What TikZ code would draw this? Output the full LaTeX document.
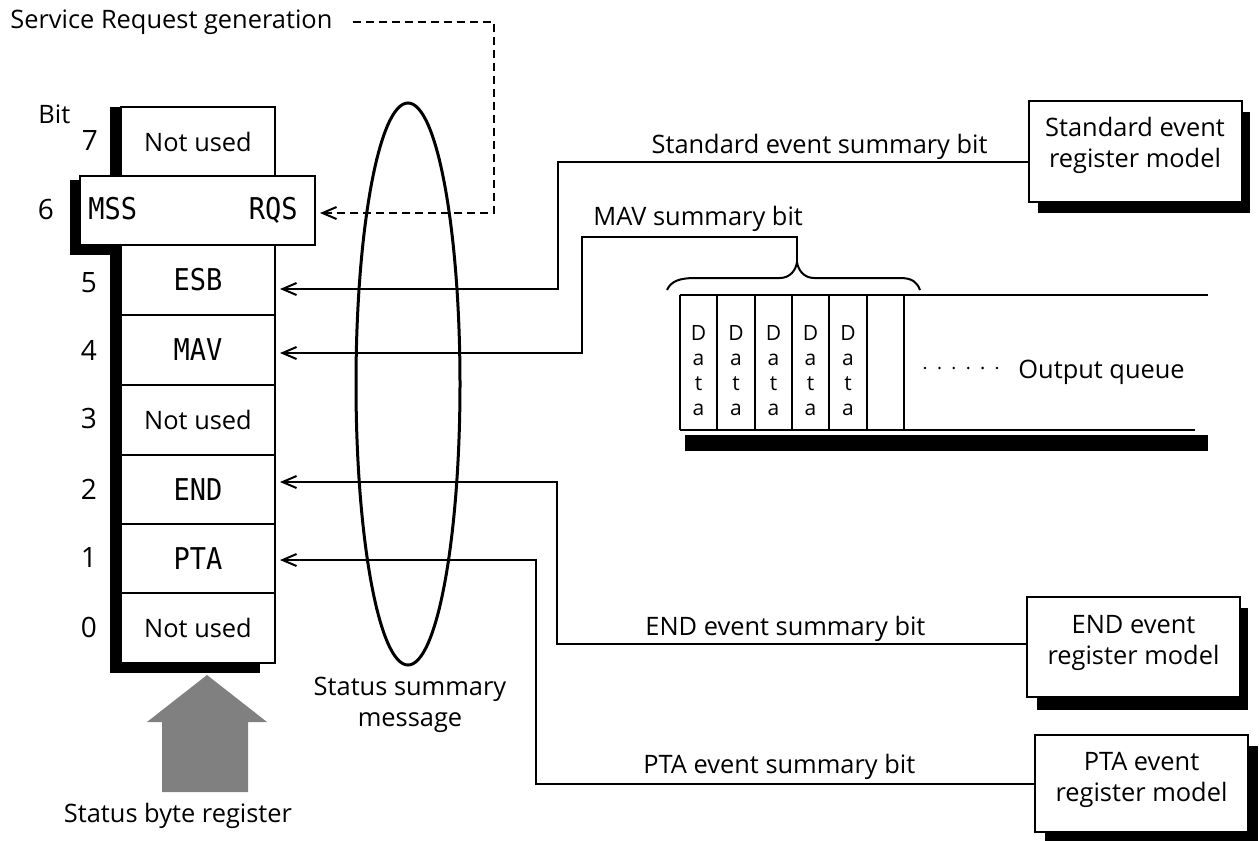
\documentclass[tikz,border=0pt]{standalone}
\usepackage{fontspec}
\setmainfont{Open Sans}
\newfontfamily\monofont[FakeStretch=0.9]{DejaVu Sans Mono}
\usetikzlibrary{arrows.meta}
\begin{document}
\begin{tikzpicture}[x=0.5pt,y=-0.5pt,
  txt/.style={font=\fontsize{12.7}{15}\selectfont,inner sep=0pt},
  num/.style={font=\fontsize{14}{16}\selectfont,inner sep=0pt},
  mono/.style={font=\monofont\fontsize{15}{17}\selectfont},
  small/.style={font=\fontsize{10.5}{12}\selectfont,inner sep=0pt},
  regbox/.style={draw,line width=1pt,fill=white,minimum width=77pt,minimum height=34.8pt,inner sep=0pt,outer sep=0pt,font=\fontsize{12.7}{15}\selectfont},
  evbox/.style={draw,line width=1pt,fill=white,inner sep=0pt,outer sep=0pt,minimum width=106.5pt},
  evtxt/.style={align=center,inner sep=0pt,font=\fontsize{12.7}{15.5}\selectfont},
  conn/.style={line width=1pt},
  arr/.style={conn,-{Straight Barb[length=7pt,width=6pt]},shorten >=2.5pt},
  dsh/.style={line width=1pt,dash pattern=on 4pt off 2.5pt,-{Straight Barb[length=7pt,width=6pt]},shorten >=2.5pt},
  shd/.style={fill=black,draw=none}]
\useasboundingbox (0,0) rectangle (1259,841);

% --- register shadows
\fill[shd] (110,107) rectangle (121,673);
\fill[shd] (110,663) rectangle (260,673);
\fill[shd] (70,180) rectangle (80,255);
\fill[shd] (70,245) rectangle (121,255);

% --- register boxes
\node[regbox] (b7) at (198,141.5) {\raisebox{-1.5pt}{Not used}};
\node[regbox,minimum width=117.5pt,minimum height=34.5pt] (b6) at (197.5,210.5) {};
\node[regbox,mono] (b5) at (198,280) {ESB};
\node[regbox,mono] (b4) at (198,350) {MAV};
\node[regbox] (b3) at (198,420) {\raisebox{-1.5pt}{Not used}};
\node[regbox,mono] (b2) at (198,489.5) {END};
\node[regbox,mono] (b1) at (198,558.5) {PTA};
\node[regbox] (b0) at (198,628) {\raisebox{-1.5pt}{Not used}};
\node[mono,anchor=base west,inner sep=0pt] (mss) at (88,219) {MSS};
\node[mono,anchor=base east,inner sep=0pt] (rqs) at (298,219) {RQS};

% --- bit numbers
\node[txt,anchor=base west] (bitlbl) at (38,123) {Bit};
\node[num,anchor=base] (n7) at (90,150) {7};
\node[num,anchor=base] (n6) at (46,219) {6};
\node[num,anchor=base] (n5) at (89,292) {5};
\node[num,anchor=base] (n4) at (89,360) {4};
\node[num,anchor=base] (n3) at (89,428) {3};
\node[num,anchor=base] (n2) at (89,499) {2};
\node[num,anchor=base] (n1) at (89,567) {1};
\node[num,anchor=base] (n0) at (89,637) {0};

% --- status byte register arrow
\fill[black!50] (162,792) -- (162,722) -- (147,722) -- (207,675) -- (267,722) -- (248,722) -- (248,792) -- cycle;
\node[txt,anchor=base] (sbr) at (178,822) {Status byte register};

% --- ellipse
\draw[line width=1.5pt] (408,384) ellipse [x radius=26pt, y radius=140.5pt];
\node[txt,anchor=base] (ssm1) at (410,695) {Status summary};
\node[txt,anchor=base] (ssm2) at (410,726) {message};

% --- event register boxes with shadows
\fill[shd] (1038,112) rectangle (1250,213);
\node[evbox,minimum height=50.5pt] (stdbox) at (1135,151.5) {};
\node[evtxt] (stdtxt) at ([yshift=3pt]stdbox.center) {Standard event\\register model};
\fill[shd] (1037,608) rectangle (1248,710);
\node[evbox,minimum height=50pt] (endbox) at (1133.5,647) {};
\node[evtxt] (endtxt) at ([yshift=2pt]endbox.center) {END event\\register model};
\fill[shd] (1045,746) rectangle (1258,843);
\node[evbox,minimum height=48.5pt] (ptabox) at (1141.5,783.5) {};
\node[evtxt] (ptatxt) at ([yshift=2pt]ptabox.center) {PTA event\\register model};

% --- output queue
\draw[line width=1pt] (680,295) -- (1208,295);
\draw[line width=1pt] (680,430) -- (1195,430);
\foreach \x in {680,717,755,792,829,867,904} \draw[line width=1pt] (\x,295) -- (\x,430);
\fill[shd] (685,435) rectangle (1208,451);
\foreach \c/\x in {1/698.5,2/736,3/773.5,4/810.5,5/848}{
  \node[small,anchor=base] (q\c a) at (\x,340) {D};
  \node[small,anchor=base] (q\c b) at (\x,365) {a};
  \node[small,anchor=base] (q\c c) at (\x,390) {t};
  \node[small,anchor=base] (q\c d) at (\x,415) {a};
}
\foreach \x in {925,939.4,953.8,968.2,982.6,997} \fill (\x,368) circle (0.7pt);
\node[txt,anchor=base west] (oq) at (1018,378) {Output queue};

% --- brace
\draw[line width=1pt] (667,290) .. controls (671,281) and (680,278) .. (695,278) -- (780,278) .. controls (790,278) and (796,270) .. (797,262) .. controls (798,270) and (804,278) .. (814,278) -- (900,278) .. controls (912,278) and (917,282) .. (920,290);
\coordinate (bt) at (797,262);

% --- target points
\path (b5.east) ++(0,9) coordinate (tESB);
\path (b4.east) ++(0,3) coordinate (tMAV);
\path (b2.east) ++(0,-7.5) coordinate (tEND);
\path (b1.east) ++(0,1.5) coordinate (tPTA);
\path (b6.east) ++(0,2.5) coordinate (tRQS);

% --- bend points
\coordinate (s1) at (558,162);
\coordinate (m1) at (582,237);
\coordinate (e1) at (557,644);
\coordinate (p1) at (536,784);
\coordinate (d1) at (494,100);

% --- connectors
\draw[arr] (stdbox.west |- s1) -- (s1) |- (tESB);
\draw[arr] (bt) |- (m1) |- (tMAV);
\draw[arr] (endbox.west |- e1) -- (e1) |- (tEND);
\draw[arr] (ptabox.west |- p1) -- (p1) |- (tPTA);
\node[txt,anchor=base west] (srg) at (10,28) {Service Request generation};
\draw[dsh] ([xshift=10pt]srg.east) -| (d1) |- (tRQS);

% --- connector labels
\node[txt,anchor=base east] (lstd) at (988,153) {Standard event summary bit};
\node[txt,anchor=base west] (lmav) at (593,225) {MAV summary bit};
\node[txt,anchor=base west] (lend) at (645,635) {END event summary bit};
\node[txt,anchor=base west] (lpta) at (643,773) {PTA event summary bit};
\end{tikzpicture}
\end{document}
